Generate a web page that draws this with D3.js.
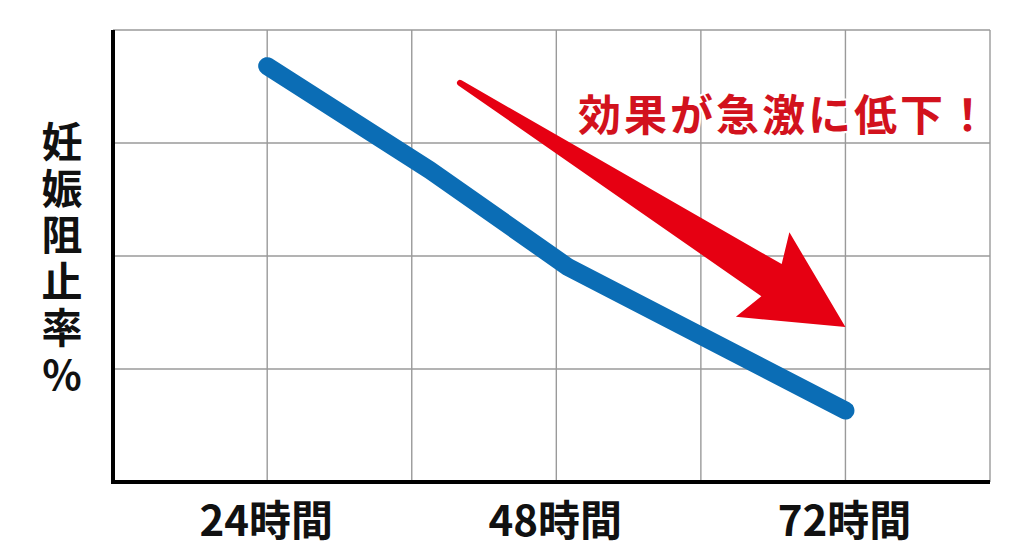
<!DOCTYPE html>
<html>
<head>
<meta charset="utf-8">
<script src="https://cdn.jsdelivr.net/npm/d3@7"></script>
<style>
  html, body { margin: 0; padding: 0; background: #fff; }
  svg { display: block; }
  text { font-family: "Noto Sans CJK JP", "Noto Sans", sans-serif; }
</style>
</head>
<body>
<svg id="chart" width="1024" height="559"></svg>
<script>
// ---- data ----
const hours = [24, 37.5, 49, 72];            // x positions of line vertices (hours)
const rates = [92, 69, 47.5, 15.8];          // pregnancy-prevention rate (relative, no scale shown)
const tickHours = [24, 48, 72];
const tickLabels = ["24時間", "48時間", "72時間"];
const gridHours = [24, 36, 48, 60, 72, 84];
const gridRates = [25, 50, 75, 100];
const yLabel = "妊娠阻止率%";
const annotation = "効果が急激に低下！";
const arrowFrom = [40, 88.3];
const arrowTo = [72, 34.3];

// ---- layout ----
const svg = d3.select("#chart");
const x = d3.scaleLinear().domain([11.2, 84]).range([113, 990]);
const y = d3.scaleLinear().domain([0, 100]).range([482, 30]);

// grid
const grid = svg.append("g").attr("stroke", "#9a9a9a").attr("stroke-width", 1.4);
grid.selectAll("line.v").data(gridHours).join("line")
  .attr("x1", d => x(d)).attr("x2", d => x(d))
  .attr("y1", y(100)).attr("y2", y(0));
grid.selectAll("line.h").data(gridRates).join("line")
  .attr("x1", x(11.2)).attr("x2", x(84))
  .attr("y1", d => y(d)).attr("y2", d => y(d));

// axes (thick black)
svg.append("line").attr("x1", x(11.2)).attr("x2", x(11.2))
  .attr("y1", y(100)).attr("y2", y(0) + 2)
  .attr("stroke", "#000").attr("stroke-width", 4);
svg.append("line").attr("x1", x(11.2) - 2).attr("x2", x(84))
  .attr("y1", y(0)).attr("y2", y(0))
  .attr("stroke", "#000").attr("stroke-width", 4);

// x tick labels
svg.selectAll("text.xt").data(tickHours).join("text")
  .attr("class", "xt")
  .attr("x", d => x(d) - 1).attr("y", 536)
  .attr("text-anchor", "middle")
  .attr("font-size", 42).attr("font-weight", 700).attr("fill", "#111")
  .text((d, i) => tickLabels[i]);

// y label (vertical, single text element)
svg.append("text")
  .attr("x", 62).attr("y", 121)
  .style("writing-mode", "vertical-rl")
  .style("text-orientation", "upright")
  .attr("letter-spacing", 5.5)
  .attr("font-size", 41).attr("font-weight", 700).attr("fill", "#111")
  .text(yLabel);

// blue line
const pts = hours.map((h, i) => [x(h), y(rates[i])]);
svg.append("path")
  .attr("d", d3.line().curve(d3.curveLinear)(pts))
  .attr("fill", "none").attr("stroke", "#0b6db5")
  .attr("stroke-width", 18).attr("stroke-linecap", "round").attr("stroke-linejoin", "round");

// red arrow
(function () {
  const x0 = x(arrowFrom[0]), y0 = y(arrowFrom[1]);
  const x1 = x(arrowTo[0]), y1 = y(arrowTo[1]);
  const dx = x1 - x0, dy = y1 - y0, L = Math.hypot(dx, dy);
  const ux = dx / L, uy = dy / L, nx = -uy, ny = ux;
  const P = (u, n) => [x1 + ux * u + nx * n, y1 + uy * u + ny * n];
  const tailW = 3, notchU = -87.5, notchW = 19, barbU = -98, barbW = 50;
  const a = P(-L, -tailW), b = P(notchU, -notchW), c = P(barbU, -barbW), t = P(0, 0),
        e = P(barbU, barbW), f = P(notchU, notchW), g = P(-L, tailW);
  const p = d3.path();
  p.moveTo(...a); p.lineTo(...b); p.lineTo(...c); p.lineTo(...t);
  p.lineTo(...e); p.lineTo(...f); p.lineTo(...g);
  const ang = Math.atan2(uy, ux);
  p.arc(x0, y0, tailW, ang + Math.PI / 2, ang - Math.PI / 2, false);
  p.closePath();
  svg.append("path").attr("d", p.toString()).attr("fill", "#e60012");
})();

// annotation text
svg.append("text")
  .attr("x", 578).attr("y", 131)
  .attr("font-size", 43).attr("font-weight", 700)
  .attr("letter-spacing", 3)
  .attr("fill", "#d2121d")
  .attr("stroke", "#fff").attr("stroke-width", 4).attr("paint-order", "stroke")
  .attr("stroke-linejoin", "round")
  .text(annotation);
</script>
</body>
</html>
